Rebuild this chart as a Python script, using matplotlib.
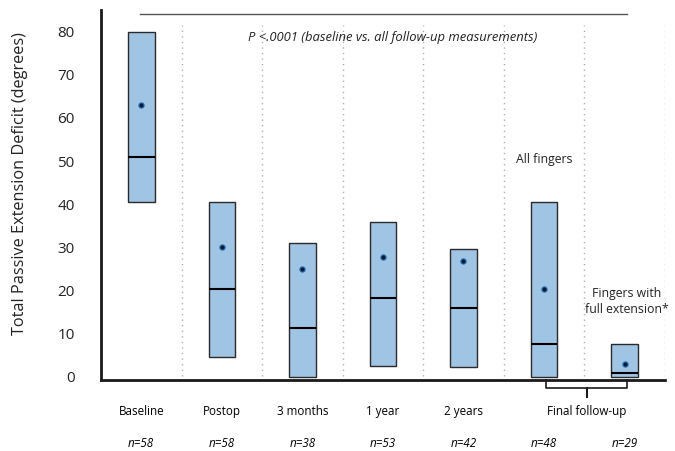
import matplotlib.pyplot as plt
import matplotlib

matplotlib.rcParams['font.family'] = ['Open Sans', 'DejaVu Sans']

# 数据
groups = ["Baseline", "Postop", "3 months", "1 year", "2 years", "", ""]
ns = ["n=58", "n=58", "n=38", "n=53", "n=42", "n=48", "n=29"]
box_top = [80, 40.6, 31, 36, 29.6, 40.6, 7.7]
box_bottom = [40.6, 4.7, 0, 2.6, 2.4, 0, 0]
medians = [51, 20.3, 11.4, 18.3, 16, 7.7, 0.9]
means = [62.9, 30.2, 25, 27.8, 26.9, 20.3, 3.0]

xs = list(range(len(box_top)))

fig = plt.figure(figsize=(6.75, 4.51), dpi=100)
ax = fig.add_axes([0.1496, 0.1574, 0.8354, 0.8204])

# 虚线分隔
for i in range(len(xs)):
    ax.axvline(i + 0.5, color='#b0b0b0', linestyle=(0, (1, 3)), linewidth=1, ymin=0.01, ymax=0.96)

heights = [t - b for t, b in zip(box_top, box_bottom)]
ax.bar(xs, heights, bottom=box_bottom, width=0.33, color='#a0c4e4',
       edgecolor='#2a2a2a', linewidth=1, zorder=3)
ax.hlines(medians, [x - 0.165 for x in xs], [x + 0.165 for x in xs],
          color='black', linewidth=1.5, zorder=4)
ax.scatter(xs, means, s=14, color='#0a1a33', edgecolor='#1f6fb5', linewidth=0.8, zorder=5)

ax.set_xlim(-0.5, 6.5)
ax.set_ylim(-0.7, 85)
ax.set_yticks(range(0, 81, 10))
ax.tick_params(axis='y', length=0, pad=19, labelsize=11, labelcolor='#222222')
ax.set_xticks([])
for s in ['top', 'right']:
    ax.spines[s].set_visible(False)
ax.spines['left'].set_linewidth(2)
ax.spines['left'].set_color('#1a1a1a')
ax.spines['bottom'].set_linewidth(2)
ax.spines['bottom'].set_color('#1a1a1a')
ax.set_ylabel("Total Passive Extension Deficit (degrees)", fontsize=11.7, color='#222222')
ax.yaxis.set_label_coords(-0.13, 0.53)

# 顶部横线和P值
ax.plot([-0.02, 6.03], [84, 84], color='#555555', linewidth=1, clip_on=False)
ax.text(3.12, 78.6, "P <.0001 (baseline vs. all follow-up measurements)", style='italic',
        fontsize=9.4, ha='center', va='center', color='#222222')
ax.text(5, 50.3, "All fingers", fontsize=8.8, ha='center', va='center', color='#222222')
ax.text(6.03, 17.6, "Fingers with\nfull extension*", fontsize=8.8, ha='center', va='center',
        color='#222222', linespacing=1.3)

# 类别和n
for i in range(len(xs)):
    if groups[i]:
        ax.text(xs[i], -7.9, groups[i], fontsize=8.4, ha='center', va='center', clip_on=False)
    ax.text(xs[i], -15.3, ns[i], fontsize=8.4, style='italic', ha='center', va='center', clip_on=False)
ax.text(5.53, -7.9, "Final follow-up", fontsize=8.4, ha='center', va='center', clip_on=False)

# 括号
ax.plot([5.03, 5.03, 6.03, 6.03], [-0.7, -2.55, -2.55, -0.7], color='#1a1a1a', linewidth=1.2, clip_on=False)
ax.plot([5.53, 5.53], [-2.55, -4.6], color='#1a1a1a', linewidth=1.5, clip_on=False)

plt.savefig("out.png", dpi=100)
